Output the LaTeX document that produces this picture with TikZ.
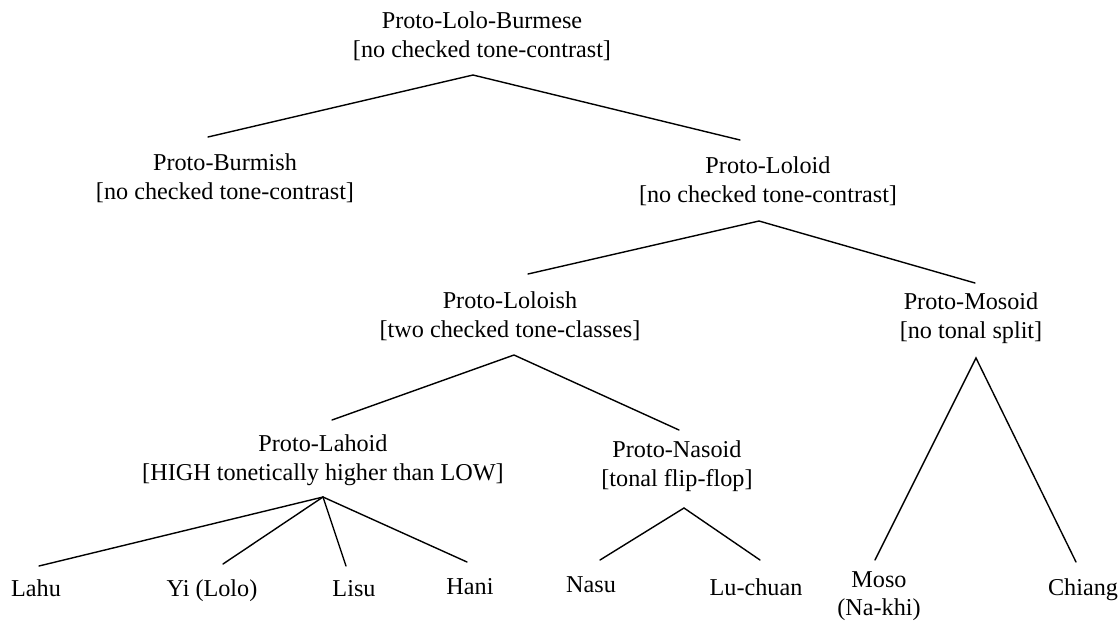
\documentclass[tikz,border=0pt]{standalone}
\usepackage{fontspec}
\setmainfont{Liberation Serif}
\begin{document}
\begin{tikzpicture}[x=0.5pt,y=-0.5pt,
  lab/.style={align=center,inner sep=0pt,font=\fontsize{12.1}{14.25}\selectfont},
  leaf/.style={lab,anchor=base},
  branch/.style={line width=0.7pt,line cap=round}]
\useasboundingbox (0,0) rectangle (1120,622);

% proto-languages
\node[lab] (plb)  at (482,36)  {Proto-Lolo-Burmese\\{}[no checked tone-contrast]};
\node[lab] (pb)   at (225,178) {Proto-Burmish\\{}[no checked tone-contrast]};
\node[lab] (pl)   at (768,181) {Proto-Loloid\\{}[no checked tone-contrast]};
\node[lab] (plsh) at (510,316) {Proto-Loloish\\{}[two checked tone-classes]};
\node[lab] (pm)   at (971,318) {Proto-Mosoid\\{}[no tonal split]};
\node[lab] (plh)  at (323,460) {Proto-Lahoid\\{}[HIGH tonetically higher than LOW]};
\node[lab] (pn)   at (677,466) {Proto-Nasoid\\{}[tonal flip-flop]};

% modern languages
\node[leaf] (lahu)  at (36,596)   {Lahu};
\node[leaf] (yi)    at (212,596)  {Yi (Lolo)};
\node[leaf] (lisu)  at (354,596)  {Lisu};
\node[leaf] (hani)  at (470,594)  {Hani};
\node[leaf] (nasu)  at (591,592)  {Nasu};
\node[leaf] (luch)  at (756,595)  {Lu-chuan};
\node[lab]  (moso)  at (879,596)  {Moso\\(Na-khi)};
\node[leaf] (chiang) at (1083,595) {Chiang};

% branch points below each parent and ends above each child
\coordinate (plb-a)  at (473,75);
\coordinate (pb-t)   at (208,137);
\coordinate (pl-t)   at (740,140);
\coordinate (pl-a)   at (759,221);
\coordinate (plsh-t) at (528,274);
\coordinate (pm-t)   at (975,283);
\coordinate (plsh-a) at (514,355);
\coordinate (plh-t)  at (332,420);
\coordinate (pn-t)   at (679,430);
\coordinate (plh-a)  at (323,497);
\coordinate (lahu-t) at (39,566);
\coordinate (yi-t)   at (223,564);
\coordinate (lisu-t) at (346,566);
\coordinate (hani-t) at (467,562);
\coordinate (pn-a)   at (684,508);
\coordinate (nasu-t) at (600,560);
\coordinate (luch-t) at (760,560);
\coordinate (pm-a)   at (976,358);
\coordinate (moso-t) at (875,560);
\coordinate (chiang-t) at (1076,562);

\draw[branch] (pb-t) -- (plb-a) -- (pl-t);
\draw[branch] (plsh-t) -- (pl-a) -- (pm-t);
\draw[branch] (plh-t) -- (plsh-a) -- (pn-t);
\draw[branch] (plh-a) -- (lahu-t);
\draw[branch] (plh-a) -- (yi-t);
\draw[branch] (plh-a) -- (lisu-t);
\draw[branch] (plh-a) -- (hani-t);
\draw[branch] (nasu-t) -- (pn-a) -- (luch-t);
\draw[branch] (moso-t) -- (pm-a) -- (chiang-t);
\end{tikzpicture}
\end{document}
